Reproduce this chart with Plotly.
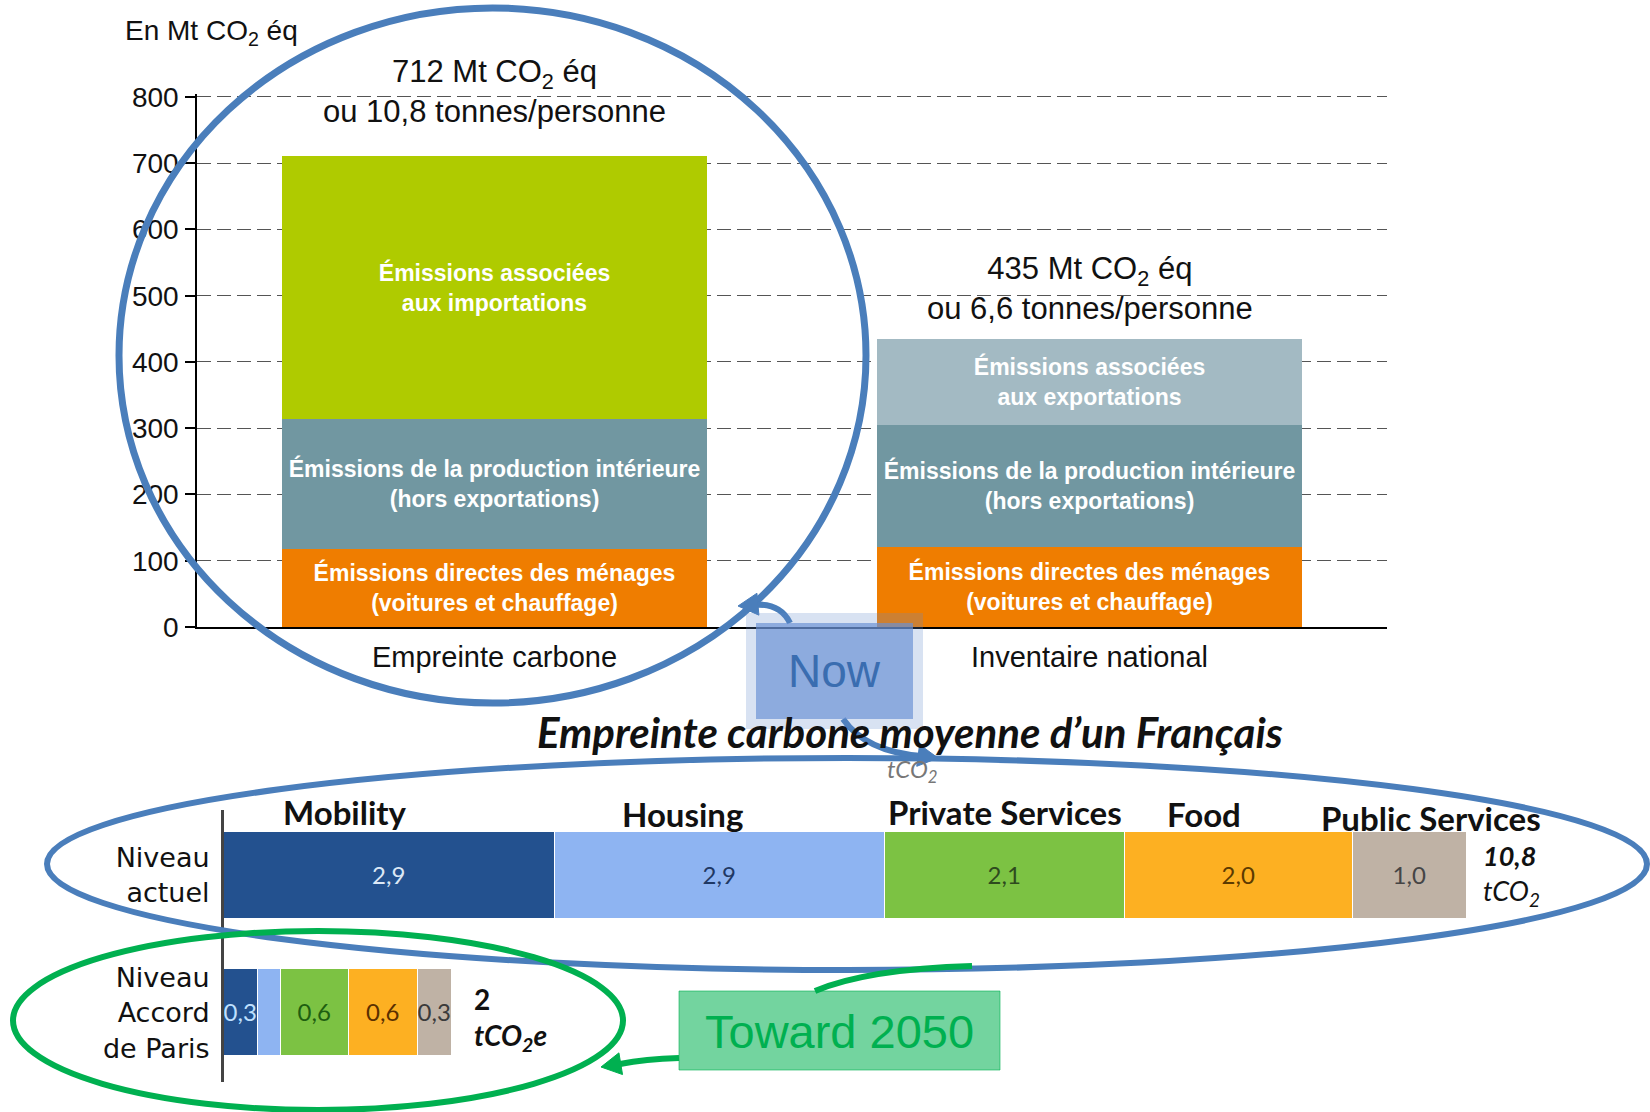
import plotly.graph_objects as go

W, H = 1650, 1112

# ---------------- data: top chart (Mt CO2 eq) ----------------
categories_top = ["Empreinte carbone", "Inventaire national"]
menages = [118, 121]
production_interieure = [197, 184]
importations = [397, None]
exportations = [None, 130]
totaux_mt = [712, 435]
tonnes_par_personne = ["10,8", "6,6"]
y_ticks_top = [0, 100, 200, 300, 400, 500, 600, 700, 800]

# ---------------- data: bottom chart (tCO2 per person) ----------------
sectors = ["Mobility", "Housing", "Private Services", "Food", "Public Services"]
niveau_actuel = [2.9, 2.9, 2.1, 2.0, 1.0]
niveau_paris = [0.3, 0.2, 0.6, 0.6, 0.3]
paris_label_shown = [True, False, True, True, True]
row_labels = ["Niveau<br>Accord<br>de Paris", "Niveau<br>actuel"]
total_actuel_label = "10,8"
total_paris_label = "2"

# ---------------- styles ----------------
top_colors = {"menages": "#EF7D00", "prod": "#7197A1", "imp": "#AFCB00", "exp": "#A3BAC3"}
sector_colors = ["#23518F", "#8EB4F2", "#7CC243", "#FDB022", "#BFB2A5"]
sector_text_actuel = ["#DCE8F6", "#1F3864", "#2E4A1E", "#5C3A00", "#454545"]
sector_text_paris = ["#BFE0FF", "#1F3864", "#1E5E10", "#5A2F00", "#3A3A3A"]
TOP_FONT = "Liberation Sans, Arial, sans-serif"
BOT_FONT = "Lato, Open Sans, sans-serif"
ROW_FONT = "DejaVu Sans, Lato, sans-serif"


def px(x):
    return x / W


def py(y):
    return 1 - y / H


def fmt(v):
    return f"{v:.1f}".replace(".", ",")


fig = go.Figure()

# ---- top stacked bars
BAR_W = 0.714
seg_text = {
    "menages": "Émissions directes des ménages<br>(voitures et chauffage)",
    "prod": "Émissions de la production intérieure<br>(hors exportations)",
    "imp": "Émissions associées<br>aux importations",
    "exp": "Émissions associées<br>aux exportations",
}
for key, vals in [("menages", menages), ("prod", production_interieure),
                  ("imp", importations), ("exp", exportations)]:
    fig.add_trace(go.Bar(
        x=categories_top, y=vals, width=BAR_W,
        marker=dict(color=top_colors[key], line=dict(width=0)),
        text=[seg_text[key] if v else "" for v in vals],
        textposition="inside", insidetextanchor="middle", textangle=0,
        constraintext="none",
        textfont=dict(family=TOP_FONT, size=23, color="white", weight="bold"),
        xaxis="x", yaxis="y", showlegend=False, hoverinfo="skip",
    ))

# ---- bottom horizontal stacked bars
ROW_W = 0.633
for i, name in enumerate(sectors):
    vals = [niveau_paris[i], niveau_actuel[i]]
    texts = [fmt(niveau_paris[i]) if paris_label_shown[i] else "", fmt(niveau_actuel[i])]
    fig.add_trace(go.Bar(
        orientation="h", y=[0, 1], x=vals, width=ROW_W, name=name,
        marker=dict(color=sector_colors[i], line=dict(width=1.5, color="white")),
        text=texts, textposition="inside", insidetextanchor="middle", textangle=0,
        constraintext="none",
        textfont=dict(family=BOT_FONT, size=24,
                      color=[sector_text_paris[i], sector_text_actuel[i]]),
        xaxis="x2", yaxis="y2", showlegend=False, hoverinfo="skip",
    ))

PX_PER_UNIT = 114.0
x2_left_px = 224
x2_max = (W - x2_left_px) / PX_PER_UNIT


def paper_text(x, y, text, size, color="#111", family=BOT_FONT, **kw):
    d = dict(x=px(x), y=py(y), xref="paper", yref="paper", text=text,
             showarrow=False, xanchor="center", yanchor="middle",
             font=dict(family=family, size=size, color=color))
    d.update(kw)
    return d


annotations = []
# totals above top bars
for i, ys in enumerate([24, 11]):
    annotations.append(dict(
        x=categories_top[i], y=totaux_mt[i], xref="x", yref="y",
        text=f"{totaux_mt[i]} Mt CO<sub>2</sub> éq<br>ou {tonnes_par_personne[i]} tonnes/personne",
        showarrow=False, xanchor="center", yanchor="bottom", yshift=ys,
        font=dict(family=TOP_FONT, size=31, color="#111")))
annotations.append(paper_text(123, 32, "En Mt CO<sub>2</sub> éq", 28,
                              family=TOP_FONT, xanchor="left"))

# bottom title / unit
annotations.append(paper_text(910, 732, "<b><i>Empreinte carbone moyenne d’un Français</i></b>", 42))
annotations.append(paper_text(912, 770, "<i>tCO<sub>2</sub></i>", 24, color="#777"))

# sector headers
header_x_px = [345, 682, 1005, 1204, 1431]
header_y_px = [812, 814, 812, 814, 818]
for name, hx, hy in zip(sectors, header_x_px, header_y_px):
    annotations.append(paper_text(hx, hy, f"<b>{name}</b>", 33))

# totals at bar ends
annotations.append(dict(x=sum(niveau_actuel), y=1, xref="x2", yref="y2",
                        text=f"<b><i>{total_actuel_label}</i></b><br><i>tCO<sub>2</sub></i>",
                        showarrow=False, xanchor="left", yanchor="middle", align="left",
                        xshift=14, yshift=0,
                        font=dict(family=BOT_FONT, size=27, color="#111")))
annotations.append(dict(x=sum(niveau_paris), y=0, xref="x2", yref="y2",
                        text=f"<b>{total_paris_label}</b><br><b><i>tCO<sub>2</sub>e</i></b>",
                        showarrow=False, xanchor="left", yanchor="middle", align="left",
                        xshift=20, yshift=-6,
                        font=dict(family=BOT_FONT, size=28, color="#111")))

# call-out texts
annotations.append(paper_text(834.5, 671, "Now", 46, color="#3A6DB0", family=TOP_FONT))
annotations.append(paper_text(839.5, 1031, "Toward 2050", 47, color="#00B050", family=TOP_FONT))

BLUE = "#4A7EBB"
GREEN = "#00B050"


def ellipse(x0, y0, x1, y1, color, width):
    return dict(type="circle", xref="paper", yref="paper",
                x0=px(x0), x1=px(x1), y0=py(y1), y1=py(y0),
                line=dict(color=color, width=width), layer="above")


def rect(x0, y0, x1, y1, fill, lw=0, lc="rgba(0,0,0,0)"):
    return dict(type="rect", xref="paper", yref="paper",
                x0=px(x0), x1=px(x1), y0=py(y1), y1=py(y0),
                fillcolor=fill, line=dict(width=lw, color=lc), layer="above")


def qcurve(p0, c, p1, color, width):
    path = (f"M {px(p0[0])},{py(p0[1])} Q {px(c[0])},{py(c[1])} "
            f"{px(p1[0])},{py(p1[1])}")
    return dict(type="path", xref="paper", yref="paper", path=path,
                line=dict(color=color, width=width), layer="above")


def arrowhead(tip, frm, color, length=20, half=11):
    dx, dy = tip[0] - frm[0], tip[1] - frm[1]
    n = (dx * dx + dy * dy) ** 0.5
    ux, uy = dx / n, dy / n
    bx, by = tip[0] - ux * length, tip[1] - uy * length
    lx, ly = bx - uy * half, by + ux * half
    rx, ry = bx + uy * half, by - ux * half
    path = (f"M {px(tip[0])},{py(tip[1])} L {px(lx)},{py(ly)} "
            f"L {px(rx)},{py(ry)} Z")
    return dict(type="path", xref="paper", yref="paper", path=path,
                fillcolor=color, line=dict(color=color, width=1), layer="above")


shapes = [
    ellipse(119, 8, 866, 703, BLUE, 7),
    ellipse(47, 758, 1647, 970, BLUE, 6),
    ellipse(13, 931, 623, 1110, GREEN, 6),
    # Now arrows
    qcurve((790, 623), (780, 602), (752, 605), BLUE, 6),
    arrowhead((738, 606), (760, 604), BLUE),
    qcurve((843, 719), (866, 752), (922, 756), BLUE, 6),
    arrowhead((938, 758), (915, 755), BLUE),
    # Toward 2050 lines
    qcurve((815, 991), (867, 969), (972, 966), GREEN, 6),
    qcurve((679, 1058), (645, 1059), (620, 1064), GREEN, 6),
    arrowhead((601, 1067), (625, 1063), GREEN),
    # boxes
    rect(746, 613, 923, 729, "rgba(100,140,205,0.25)"),
    rect(756, 623, 913, 719, "rgba(105,145,212,0.68)"),
    rect(679, 991, 1000, 1070, "rgba(0,176,80,0.55)", 1, "rgba(0,176,80,0.6)"),
]

Y_TOP = 805
fig.update_layout(
    width=W, height=H, autosize=False,
    margin=dict(l=0, r=0, t=0, b=0, pad=0),
    paper_bgcolor="white", plot_bgcolor="rgba(0,0,0,0)",
    template="none", barmode="stack", bargap=0,
    font=dict(family=TOP_FONT, color="#111"),
    xaxis=dict(domain=[px(197), px(1387)], range=[-0.5, 1.5], type="category",
               showline=True, linecolor="black", linewidth=1.5, ticks="",
               showgrid=False, zeroline=False,
               tickfont=dict(family=TOP_FONT, size=29, color="#111"),
               ticklabelstandoff=3),
    yaxis=dict(domain=[py(627), py(627 - (627 - 97) * Y_TOP / 800)], range=[0, Y_TOP],
               tickvals=y_ticks_top,
               showline=True, linecolor="black", linewidth=1.5,
               ticks="outside", ticklen=10, tickcolor="black", tickwidth=1.5,
               showgrid=True, gridcolor="#555", gridwidth=1.3, griddash="14px,6px",
               zeroline=False, tickfont=dict(family=TOP_FONT, size=28, color="#111"),
               ticklabelstandoff=1),
    xaxis2=dict(domain=[px(x2_left_px), 1], range=[0, x2_max], anchor="y2",
                visible=False, showgrid=False, zeroline=False),
    yaxis2=dict(domain=[py(1082), py(810)], range=[-0.502, 1.476], anchor="x2",
                tickvals=[0, 1], ticktext=row_labels, showline=True,
                linecolor="#444", linewidth=3, ticks="", showgrid=False,
                zeroline=False, ticklabelstandoff=6,
                tickfont=dict(family=ROW_FONT, size=27, color="#111")),
    annotations=annotations,
    shapes=shapes,
)

fig.write_html("out.html", config={"displayModeBar": False},
               post_script="document.body.style.margin='0px';")
